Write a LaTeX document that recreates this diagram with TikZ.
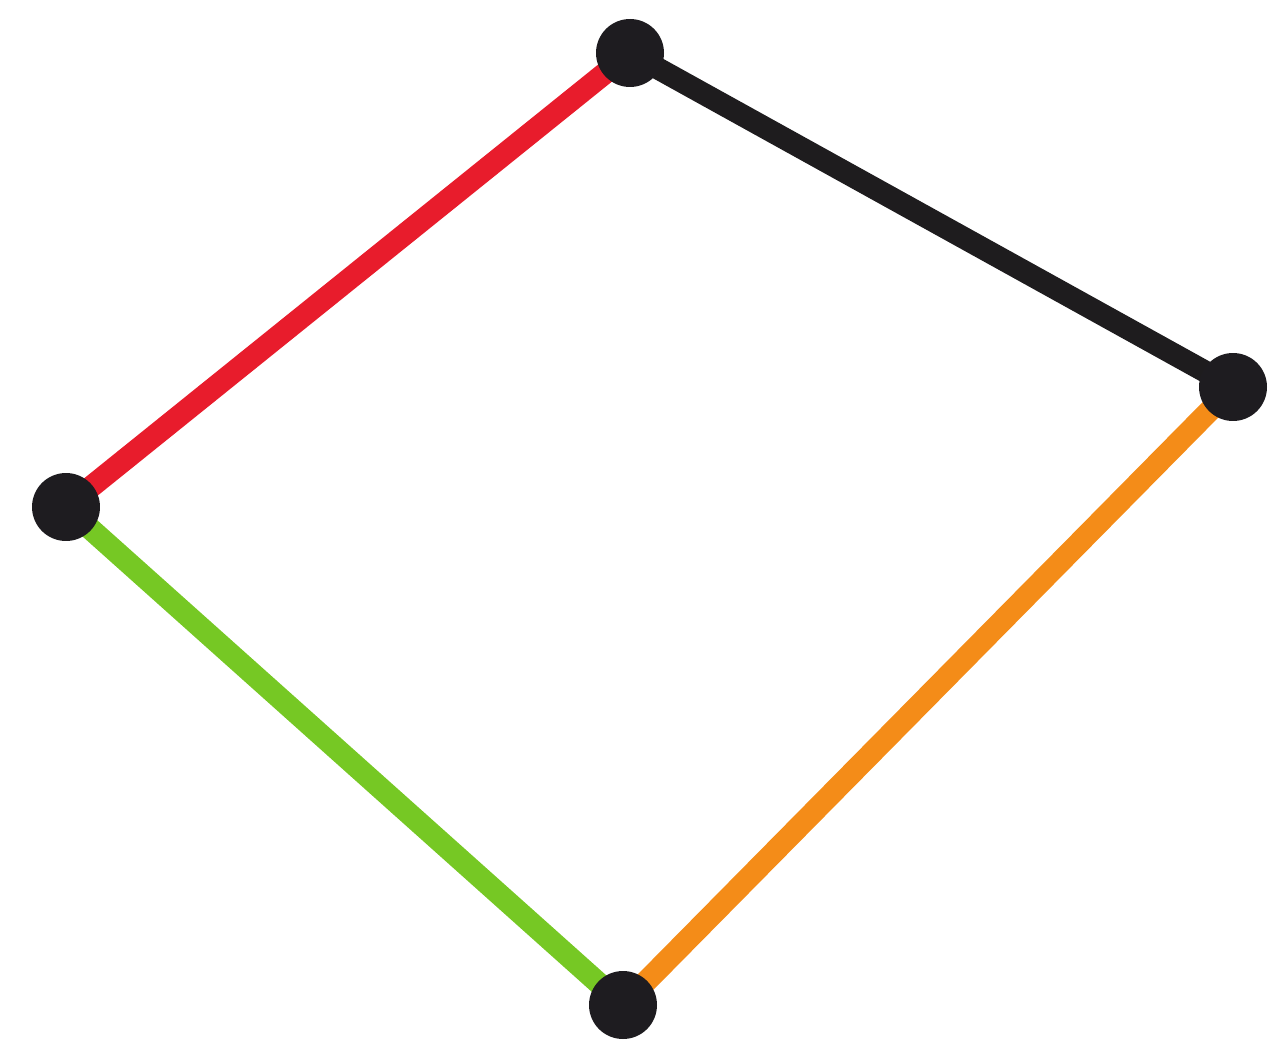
\documentclass[tikz,border=0pt]{standalone}
\usepackage{xcolor}
\usepackage{tikz}
\usetikzlibrary{backgrounds}
\definecolor{edgeRed}{RGB}{232,28,44}
\definecolor{edgeBlack}{RGB}{30,28,30}
\definecolor{edgeOrange}{RGB}{244,140,24}
\definecolor{edgeGreen}{RGB}{118,200,36}
\definecolor{dotFill}{RGB}{30,28,32}

\begin{document}
\begin{tikzpicture}[x=0.02cm,y=-0.02cm,
  vtx/.style={circle,fill=dotFill,inner sep=0pt,minimum size=1.36cm},
  edge/.style={line width=12.5pt}]
\useasboundingbox (0,0) rectangle (1284,1043);
\node[vtx] (vTop) at (630,53) {};
\node[vtx] (vRight) at (1233,387) {};
\node[vtx] (vLeft) at (66,507) {};
\node[vtx] (vBottom) at (623,1005) {};
\begin{pgfonlayer}{background}
\draw[edge,edgeRed] (vLeft.center) -- (vTop.center);
\draw[edge,edgeBlack] (vTop.center) -- (vRight.center);
\draw[edge,edgeOrange] (vRight.center) -- (vBottom.center);
\draw[edge,edgeGreen] (vBottom.center) -- (vLeft.center);
\end{pgfonlayer}
\end{tikzpicture}
\end{document}
